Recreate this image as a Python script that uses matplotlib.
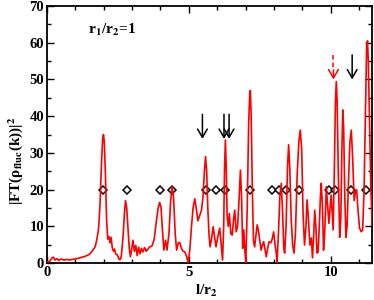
import matplotlib
matplotlib.use("Agg")
import matplotlib.pyplot as plt
from matplotlib.ticker import MultipleLocator

plt.rcParams["font.family"] = ["Liberation Serif", "DejaVu Serif"]
plt.rcParams["font.weight"] = "bold"
plt.rcParams["mathtext.fontset"] = "stix"

# |FT(rho_fluc(k))|^2
l_r2 = [
    0.00, 0.10, 0.18, 0.22, 0.28, 0.35, 0.42, 0.50, 0.60, 0.70, 0.80, 0.90,
    1.00, 1.10, 1.20, 1.30, 1.40, 1.50, 1.60, 1.70, 1.76, 1.82, 1.87, 1.92,
    1.96, 1.99, 2.02, 2.06, 2.10, 2.14, 2.18, 2.22, 2.26, 2.30, 2.34, 2.38,
    2.42, 2.48, 2.54, 2.58, 2.62, 2.68, 2.73, 2.77, 2.81, 2.86, 2.90, 2.94,
    2.98, 3.03, 3.08, 3.13, 3.18, 3.23, 3.28, 3.33, 3.38, 3.44, 3.50, 3.56,
    3.62, 3.70, 3.78, 3.85, 3.92, 3.97, 4.02, 4.07, 4.12, 4.18, 4.23, 4.30,
    4.36, 4.41, 4.46, 4.52, 4.57, 4.63, 4.68, 4.74, 4.80, 4.86, 4.92, 4.98,
    5.04, 5.09, 5.15, 5.21, 5.27, 5.32, 5.38, 5.45, 5.50, 5.55, 5.59, 5.63,
    5.67, 5.71, 5.75, 5.80, 5.86, 5.91, 5.96, 6.02, 6.09, 6.14, 6.19, 6.23,
    6.26, 6.29, 6.32, 6.35, 6.39, 6.43, 6.48, 6.53, 6.58, 6.62, 6.67, 6.72,
    6.77, 6.82, 6.86, 6.90, 6.94, 6.98, 7.01, 7.06, 7.11, 7.15, 7.17, 7.20,
    7.24, 7.28, 7.32, 7.36, 7.41, 7.45, 7.50, 7.55, 7.60, 7.64, 7.69, 7.73,
    7.78, 7.83, 7.89, 7.94, 7.99, 8.04, 8.08, 8.11, 8.16, 8.21, 8.26, 8.30,
    8.35, 8.38, 8.43, 8.48, 8.52, 8.56, 8.61, 8.66, 8.71, 8.76, 8.82, 8.88,
    8.93, 8.98, 9.03, 9.08, 9.13, 9.17, 9.21, 9.27, 9.32, 9.36, 9.40, 9.44,
    9.48, 9.52, 9.56, 9.60, 9.64, 9.67, 9.71, 9.75, 9.79, 9.85, 9.89, 9.94,
    9.98, 10.02, 10.06, 10.09, 10.13, 10.17, 10.20, 10.23, 10.27, 10.32,
    10.36, 10.40, 10.43, 10.46, 10.50, 10.54, 10.58, 10.63, 10.68, 10.73,
    10.78, 10.83, 10.88, 10.92, 10.96, 11.02, 11.08, 11.13, 11.18, 11.23,
    11.27, 11.30, 11.33, 11.38, 11.42, 11.47,
]
ft2 = [
    0.3, 0.5, 1.4, 1.6, 0.8, 1.2, 0.7, 1.1, 0.8, 1.0, 0.8, 1.0,
    1.1, 1.3, 1.5, 1.7, 2.0, 2.4, 3.3, 4.5, 6.5, 9.5, 16, 27,
    33.5, 35, 33, 24, 12, 6.5, 7.2, 5.5, 7.0, 4.2, 3.2, 3.8,
    2.5, 2.2, 1.0, 0.9, 1.8, 7, 13.5, 17, 15, 9, 4, 1.7,
    3.5, 6.2, 3.2, 4.8, 2.0, 4.3, 2.5, 4.0, 3.0, 4.2, 3.2, 3.8,
    4.4, 4.6, 6.5, 11, 15, 16.5, 15.2, 9, 3.5, 6.2, 3.5, 8,
    17, 20.8, 18, 8, 3.5, 5.5, 5.6, 4.0, 3.2, 3.0, 1.8, 0.0,
    4, 9.5, 15, 17.5, 14.5, 11.5, 12.8, 14.5, 18, 25, 29, 25,
    15, 8, 4.4, 6.5, 9.9, 7, 4.4, 7, 9.5, 5, 0.8, 10,
    26, 33.5, 26, 13, 10, 13.5, 8, 7.6, 12, 14.4, 8.5, 10,
    17, 25.3, 18, 4, 9, 3, 0, 15, 38, 46.5, 47, 40,
    20, 6, 4.4, 7, 10.4, 9, 6.3, 3.5, 5.0, 5.8, 3.5, 1.7,
    4, 5.8, 5.5, 6.5, 8.5, 5, 3, 0, 8, 18, 21.7, 15,
    4, 2.7, 10, 26, 32.2, 26, 12, 5, 2.7, 8, 24, 33,
    36.2, 31, 13, 4.9, 10, 17.2, 13, 4.9, 6.8, 1.4, 7, 14.4,
    10, 2.7, 3, 10, 18, 21.7, 16, 3.5, 8, 20.8, 16, 10.8,
    15, 18.5, 13, 9, 25, 44, 49.4, 44, 25, 7,
    12, 32, 41.7, 37, 18, 7, 10, 22, 33, 36.2,
    28, 17, 19.5, 19.9, 15, 9.5, 8.5, 9, 20, 42,
    59, 60.5, 55, 35, 20, 10,
]

# diamond markers at |FT|^2 = 20
marker_x = [1.98, 2.81, 3.98, 4.42, 5.60, 5.97, 6.29, 7.17, 7.94, 8.17,
            8.44, 8.90, 9.96, 10.17, 10.73, 11.25]
marker_y = [20] * len(marker_x)

# solid black arrows
arrow_x = [5.48, 6.24, 6.42, 10.76]
arrow_tip = [33.8, 33.8, 33.8, 50.0]
arrow_top = [40.5, 40.5, 40.5, 56.7]

# dashed red arrow
red_arrow_x = 10.10
red_arrow_tip = 50.0
red_arrow_top = 56.7

fig = plt.figure(figsize=(3.74, 3.0), dpi=100)
ax = fig.add_axes([0.1257, 0.1233, 0.8690, 0.8567])

ax.plot(marker_x, marker_y, "D", ms=3.6, mfc="white", mec="black",
        mew=1.1, zorder=2)
ax.plot(l_r2, ft2, color="red", lw=1.2, zorder=3)

head = "->, head_length=0.6, head_width=0.35"
for x, tip, top in zip(arrow_x, arrow_tip, arrow_top):
    ax.annotate("", xy=(x, tip), xytext=(x, top),
                arrowprops=dict(arrowstyle=head, color="black", lw=1.1,
                                mutation_scale=10, shrinkA=0, shrinkB=0))

ax.plot([red_arrow_x, red_arrow_x], [red_arrow_top, red_arrow_tip + 2.5],
        color="red", lw=1.1, ls=(0, (3, 2)))
ax.annotate("", xy=(red_arrow_x, red_arrow_tip),
            xytext=(red_arrow_x, red_arrow_tip + 2.6),
            arrowprops=dict(arrowstyle=head, color="red", lw=1.1,
                            mutation_scale=10, shrinkA=0, shrinkB=0))

ax.text(2.29, 63.5, r"r$_\mathbf{1}$/r$_\mathbf{2}$=1", ha="center",
        va="center", fontsize=11, fontweight="bold")

ax.set_xlim(0, 11.46)
ax.set_ylim(0, 70)
ax.xaxis.set_major_locator(MultipleLocator(5))
ax.xaxis.set_minor_locator(MultipleLocator(1))
ax.yaxis.set_major_locator(MultipleLocator(10))
ax.yaxis.set_minor_locator(MultipleLocator(5))
ax.tick_params(which="both", direction="in", top=True, right=True,
               labelsize=10.5, width=1.0, pad=2)
ax.tick_params(which="major", length=5)
ax.tick_params(which="minor", length=3)
for s in ax.spines.values():
    s.set_linewidth(1.3)

ax.set_xlabel(r"l/r$_\mathbf{2}$", fontsize=11, fontweight="bold")
ax.xaxis.set_label_coords(0.49, -0.078)
ax.set_ylabel(r"|FT(ρ$_\mathbf{fluc}$(k))|$^\mathbf{2}$", fontsize=11,
              fontweight="bold")
ax.yaxis.set_label_coords(-0.068, 0.40)

fig.savefig("out.png", dpi=100)
